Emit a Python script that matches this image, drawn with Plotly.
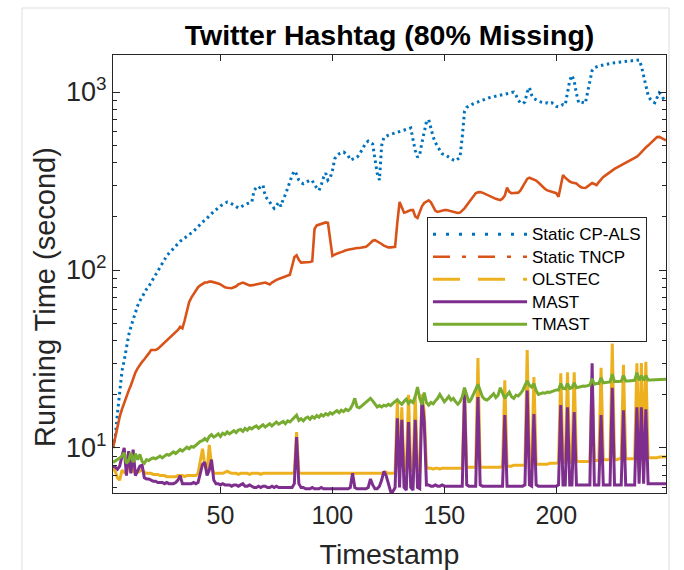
import plotly.graph_objects as go

# Running time per timestamp (seconds), timestamps 2..249
timestamps = list(range(2, 250))

cp_als = [
    10, 11.5, 15.7, 20, 27, 31, 37, 43, 48, 53,
    58, 63, 67, 71, 75, 78, 81, 85, 90, 95,
    100, 104, 109, 115, 120, 124, 128, 132, 137, 141,
    145, 148, 151, 155, 158, 161, 165, 170, 176, 181,
    186, 190, 196, 202, 208, 213, 218, 224, 229, 233,
    237, 241, 240, 236, 232, 227, 223, 226, 230, 234,
    236, 238, 241, 280, 290, 285, 295, 300, 260, 250,
    240, 230, 222, 230, 240, 228, 250, 265, 290, 310,
    340, 360, 345, 320, 310, 305, 310, 315, 320, 318,
    300, 290, 280, 300, 330, 350, 320, 330, 360, 420,
    440, 450, 455, 460, 450, 440, 415, 420, 425, 430,
    445, 470, 500, 520, 530, 520, 510, 420, 350, 320,
    500, 555, 565, 572, 578, 583, 588, 593, 598, 603,
    608, 614, 620, 628, 540, 470, 430, 445, 520, 600,
    680, 700, 620, 560, 520, 490, 470, 450, 445, 440,
    430, 420, 415, 410, 420, 430, 560, 780, 820, 835,
    850, 860, 870, 880, 895, 905, 912, 920, 928, 935,
    940, 945, 950, 955, 962, 968, 975, 985, 995, 1000,
    960, 900, 870, 860, 880, 1000, 1060, 960, 920, 900,
    890, 880, 870, 865, 870, 860, 870, 850, 830, 825,
    840, 850, 845, 990, 1160, 1240, 1150, 980, 870, 880,
    870, 865, 1000, 1150, 1320, 1370, 1390, 1400, 1410, 1420,
    1430, 1440, 1450, 1455, 1460, 1465, 1470, 1475, 1480, 1485,
    1490, 1495, 1500, 1505, 1510, 1515, 1400, 1250, 1080, 960,
    910, 880, 870, 920, 990, 960, 910, 900,
]

tncp = [
    10, 11.5, 13.5, 15, 16.5, 18, 19.5, 21, 22.5, 24.5,
    26.5, 28, 29.5, 30.5, 31.5, 32.5, 34, 35.5, 35.5, 35.5,
    36, 37, 38, 39, 40.5, 41.5, 42.5, 44, 45, 46,
    48, 47, 52, 60, 66, 70, 73, 77, 80, 82,
    84, 85, 85, 86, 86, 85.5, 85, 84, 83, 81,
    80, 79.5, 79, 79, 80, 81, 83, 84, 85, 84,
    83, 82, 82, 82.5, 83, 83.5, 84, 84.5, 85, 84,
    83, 85, 87, 88, 89, 90, 91, 92, 93, 94,
    105, 118, 121, 114, 110, 110, 110, 111, 111, 112,
    170, 178, 180, 182, 184, 185, 184, 150, 120, 122,
    124, 125, 126, 128, 129, 130, 131, 132, 133, 133,
    133, 134, 134, 135, 138, 142, 146, 147, 145, 142,
    140, 137, 135, 134, 134, 134, 135, 185, 241, 225,
    210, 212, 215, 217, 217, 200, 196, 210, 228, 238,
    242, 246, 240, 225, 215, 212, 214, 216, 217, 217,
    215, 213, 211, 210, 209, 210, 215, 222, 231, 240,
    250, 262, 270, 273, 274, 272, 268, 264, 260, 257,
    254, 251, 249, 247, 252, 262, 290, 275, 270, 270,
    271, 272, 280, 295, 312, 325, 330, 326, 322, 318,
    310, 300, 292, 285, 280, 277, 274, 272, 270, 258,
    300, 342, 330, 320, 314, 310, 308, 306, 298, 292,
    290, 289, 295, 303, 308, 304, 300, 312, 325, 333,
    340, 348, 356, 364, 370, 376, 382, 388, 394, 399,
    405, 412, 420, 427, 433, 445, 460, 475, 488, 500,
    515, 530, 545, 558, 560, 552, 542, 535,
]

olstec = [
    7.7, 7.4, 6.8, 6.6, 7.5, 7.3, 7.2, 8.5, 7.3, 7.6,
    7.2, 7.3, 7.4, 7.6, 7.3, 7.2, 7.2, 7.2, 7.1, 7.1,
    7.1, 7.0, 7.0, 7.0, 6.9, 6.9, 6.9, 6.9, 6.9, 7.0,
    7.0, 7.0, 6.9, 7.0, 7.0, 7.0, 7.0, 7.0, 7.2, 8.5,
    9.9, 8.0, 7.4, 10.4, 8.0, 7.2, 7.2, 7.2, 7.2, 7.2,
    7.3, 7.4, 7.3, 7.2, 7.2, 7.2, 7.1, 7.2, 7.2, 7.2,
    7.2, 7.1, 7.2, 7.2, 7.2, 7.2, 7.1, 7.2, 7.2, 7.2,
    7.2, 7.2, 7.2, 7.2, 7.2, 7.2, 7.2, 7.2, 7.2, 7.2,
    7.2, 7.3, 12.3, 7.3, 7.2, 7.2, 7.2, 7.2, 7.2, 7.2,
    7.2, 7.2, 7.2, 7.2, 7.2, 7.2, 7.2, 7.2, 7.2, 7.2,
    7.2, 7.2, 7.2, 7.2, 7.2, 7.2, 7.2, 7.2, 7.2, 7.2,
    7.2, 7.2, 7.2, 7.2, 7.2, 7.2, 7.2, 7.2, 7.2, 7.2,
    7.2, 7.3, 7.3, 7.2, 7.2, 7.2, 7.3, 18.1, 7.5, 16.9,
    7.5, 7.4, 19.9, 7.5, 7.4, 19.5, 7.5, 7.4, 20.0, 16.0,
    7.8, 7.7, 7.7, 7.6, 7.7, 7.7, 7.6, 7.7, 7.7, 7.7,
    7.7, 7.7, 7.7, 7.7, 7.7, 7.7, 7.7, 21.5, 7.8, 7.8,
    7.8, 7.8, 7.8, 32.0, 7.8, 7.8, 7.8, 7.8, 7.8, 7.8,
    7.8, 7.8, 7.8, 7.8, 7.9, 24.0, 7.9, 7.9, 7.9, 8.0,
    8.0, 8.0, 8.0, 8.0, 8.0, 35.5, 8.0, 8.0, 25.0, 8.1,
    8.1, 8.1, 8.1, 8.1, 8.1, 8.2, 8.2, 8.2, 8.2, 8.3,
    26.3, 8.3, 8.3, 26.6, 8.3, 8.3, 26.6, 8.4, 8.4, 8.4,
    8.4, 8.4, 8.4, 8.4, 24.0, 8.5, 8.5, 8.5, 28.2, 8.6,
    8.6, 8.6, 8.6, 38.6, 8.6, 8.6, 8.7, 8.7, 29.3, 8.7,
    8.7, 8.7, 8.7, 8.7, 29.9, 8.7, 30.0, 8.8, 30.5, 8.8,
    8.8, 8.8, 8.8, 8.8, 8.9, 8.9, 8.9, 8.9,
]

mast = [
    7.9, 7.8, 7.6, 7.9, 9.0, 10.0, 7.0, 9.6, 7.2, 9.8,
    7.0, 7.4, 7.9, 8.0, 6.8, 6.7, 6.7, 6.6, 6.5, 6.5,
    6.4, 6.4, 6.4, 6.3, 6.4, 6.3, 6.3, 6.3, 6.4, 6.6,
    7.0, 6.3, 6.3, 6.3, 6.3, 6.3, 6.4, 6.3, 6.4, 7.2,
    8.1, 8.3, 7.0, 7.5, 8.6, 6.6, 6.3, 6.3, 6.2, 6.3,
    6.2, 6.2, 6.2, 6.1, 6.2, 6.2, 6.1, 6.2, 6.3, 6.1,
    6.1, 6.2, 6.1, 6.0, 6.0, 6.1, 6.0, 6.1, 6.1, 6.0,
    6.0, 6.1, 6.0, 6.1, 6.0, 6.0, 6.0, 6.0, 6.0, 6.0,
    6.0, 6.3, 11.5, 6.3, 6.0, 6.0, 5.9, 5.9, 5.9, 6.0,
    5.9, 5.9, 5.9, 6.0, 5.9, 5.9, 5.9, 5.9, 5.9, 5.9,
    5.9, 5.9, 5.9, 5.9, 5.9, 5.9, 6.0, 7.2, 6.0, 5.9,
    5.9, 5.9, 5.9, 5.9, 6.0, 6.7, 6.2, 5.9, 5.9, 6.1,
    6.6, 7.4, 7.0, 6.2, 5.7, 5.7, 6.0, 14.7, 6.0, 14.4,
    6.0, 5.8, 14.0, 6.0, 5.8, 14.4, 6.0, 5.9, 19.0, 14.0,
    6.2, 6.2, 6.1, 6.1, 6.2, 6.1, 6.1, 6.2, 6.1, 6.1,
    6.1, 6.1, 6.1, 6.1, 6.1, 6.1, 6.1, 20.0, 6.2, 6.1,
    6.1, 6.1, 6.1, 19.3, 6.2, 6.1, 6.1, 6.1, 6.1, 6.1,
    6.1, 6.1, 6.1, 6.1, 6.1, 15.3, 6.1, 6.1, 6.1, 6.1,
    6.1, 6.1, 6.1, 6.1, 6.2, 21.0, 6.2, 6.1, 15.5, 6.2,
    6.1, 6.1, 6.1, 6.1, 6.1, 6.1, 6.1, 6.1, 6.1, 6.2,
    17.4, 6.2, 6.2, 16.9, 6.2, 6.2, 15.9, 6.2, 6.2, 6.2,
    6.2, 6.2, 6.2, 6.2, 29.9, 6.2, 6.2, 6.2, 15.3, 6.2,
    6.2, 6.2, 6.2, 21.8, 6.2, 6.2, 6.2, 6.2, 16.3, 6.2,
    6.2, 6.2, 6.2, 6.2, 16.9, 6.3, 16.9, 6.3, 16.5, 6.3,
    6.3, 6.3, 6.3, 6.3, 6.3, 6.3, 6.3, 6.3,
]

tmast = [
    8.3, 8.5, 8.6, 8.8, 9.0, 9.4, 8.2, 8.5, 9.4, 8.3,
    9.3, 8.6, 9.2, 8.4, 8.2, 8.6, 8.5, 8.7, 8.8, 8.7,
    8.9, 9.0, 8.8, 9.0, 9.2, 9.1, 9.3, 9.5, 9.3, 9.6,
    9.8, 9.6, 9.9, 10.1, 9.9, 10.2, 10.1, 10.4, 10.6, 10.9,
    11.0, 11.3, 11.0, 11.6, 11.9, 11.5, 11.7, 12.0, 11.6, 12.1,
    11.9, 12.3, 12.0, 12.2, 12.5, 12.2, 12.6, 12.7, 12.4, 12.9,
    12.6, 13.0, 12.8, 13.1, 13.3, 12.9, 13.2, 13.5, 13.1, 13.4,
    13.7, 13.3, 13.6, 14.0, 13.6, 13.9, 14.1, 13.7, 14.2, 14.0,
    14.4, 14.8, 15.3, 14.3, 14.6, 14.2, 14.7, 14.9, 14.5, 15.0,
    14.7, 15.2, 14.9, 15.4, 15.1, 15.6, 15.3, 15.8, 15.5, 15.9,
    16.2, 15.8, 16.3, 16.0, 16.5, 16.2, 16.6, 17.5, 19.0, 17.0,
    16.8, 17.2, 17.6, 18.0, 18.6, 19.0, 18.4, 17.6, 17.0, 17.3,
    17.0, 17.4, 17.2, 17.6, 17.3, 17.8, 18.2, 18.7, 18.0, 17.6,
    18.3, 18.8, 17.8, 18.4, 18.0, 19.5, 22.0, 19.0, 17.5, 20.5,
    18.0, 17.4, 18.0, 17.7, 18.4, 19.0, 20.0, 19.2, 18.2, 18.8,
    19.5, 18.6, 19.0, 18.2, 17.6, 18.2, 19.4, 21.8, 19.6, 18.0,
    18.8, 20.0, 21.5, 22.8, 21.0, 19.4, 18.8, 18.6, 19.0, 19.6,
    20.2, 19.2, 19.8, 21.8, 20.4, 19.0, 19.8, 20.6, 19.4, 19.0,
    19.8, 19.6, 20.2, 21.0, 22.5, 23.8, 22.5, 22.0, 23.0, 21.0,
    20.0, 20.2, 20.4, 20.3, 20.6, 20.5, 20.8, 21.0, 21.2, 21.2,
    23.0, 21.6, 21.5, 23.0, 21.6, 21.8, 23.2, 21.8, 22.0, 22.0,
    22.3, 22.2, 22.4, 22.6, 24.5, 22.8, 23.0, 23.0, 24.8, 23.2,
    23.3, 23.4, 23.5, 26.0, 23.6, 23.6, 23.7, 23.7, 25.5, 23.8,
    23.8, 23.9, 24.0, 24.0, 26.5, 24.0, 25.5, 24.0, 25.5, 24.1,
    24.1, 24.1, 24.2, 24.2, 24.2, 24.3, 24.3, 24.3,
]

series_names = ["Static CP-ALS", "Static TNCP", "OLSTEC", "MAST", "TMAST"]
series_values = [cp_als, tncp, olstec, mast, tmast]
for name, vals in zip(series_names, series_values):
    if len(vals) != len(timestamps):
        raise ValueError(f"{name}: {len(vals)} values for {len(timestamps)} timestamps")

y_major = [10, 100, 1000]
y_major_text = ["10<sup>1</sup>", "10<sup>2</sup>", "10<sup>3</sup>"]
y_minor = [6, 7, 8, 9, 20, 30, 40, 50, 60, 70, 80, 90,
           200, 300, 400, 500, 600, 700, 800, 900]
x_ticks = [50, 100, 150, 200]

colors = ["#0072BD", "#D95319", "#EDB120", "#7E2F8E", "#77AC30"]
plot_dash = ["2.5px,3.5px", "solid", "solid", "solid", "solid"]
legend_dash = ["3px,10px", "17px,12px,4px,12px", "27px,18px", "solid", "solid"]
widths = [3, 2.6, 3, 3, 3]

AX = "#262626"
FONT = "Liberation Sans, Arial, Helvetica, sans-serif"

fig = go.Figure()
for name, vals, col, dash, w in zip(series_names, series_values, colors, plot_dash, widths):
    fig.add_trace(go.Scatter(
        x=timestamps, y=vals, mode="lines", name=name, showlegend=False,
        line=dict(color=col, width=w, dash=dash),
        hoverinfo="skip",
    ))
# legend entries showing each line style
for name, col, dash, w in zip(series_names, colors, legend_dash, widths):
    fig.add_trace(go.Scatter(
        x=[None], y=[None], mode="lines",
        name=f"<span style='font-size:17px'>{name}</span>",
        line=dict(color=col, width=w, dash=dash),
    ))

L, R, T, B = 113, 18, 55, 77
W, H = 684, 570
pw, ph = W - L - R, H - T - B


def px_x(p):
    return (p - L) / pw


def px_y(p):
    return (H - B - p) / ph


fig.update_layout(
    width=W, height=H,
    margin=dict(l=L, r=R, t=T, b=B, pad=0, autoexpand=False),
    paper_bgcolor="white", plot_bgcolor="white",
    font=dict(family=FONT, color=AX),
    title=dict(
        text="<b>Twitter Hashtag (80% Missing)</b>",
        font=dict(family=FONT, size=28.5, color="black"),
        x=0.5, xref="paper", xanchor="center",
        y=1 - 35 / H, yref="container", yanchor="middle",
    ),
    xaxis=dict(
        range=[2, 249], tickmode="array", tickvals=x_ticks,
        ticks="inside", ticklen=6, tickwidth=1, tickcolor=AX,
        showline=True, linecolor=AX, linewidth=1, mirror="ticks",
        showgrid=False, zeroline=False, automargin=False,
        tickfont=dict(size=25, color=AX),
        title=dict(text="Timestamp", font=dict(size=28.5, color=AX), standoff=21),
    ),
    yaxis=dict(
        type="log", range=[0.747, 3.208],
        tickmode="array", tickvals=y_major, ticktext=y_major_text,
        ticks="inside", ticklen=7, tickwidth=1, tickcolor=AX,
        minor=dict(tickmode="array", tickvals=y_minor, ticks="inside",
                   ticklen=4, tickwidth=1, tickcolor=AX, showgrid=False),
        showline=True, linecolor=AX, linewidth=1, mirror="ticks",
        showgrid=False, zeroline=False, automargin=False,
        tickfont=dict(size=27, color=AX),
    ),
    annotations=[dict(
        text="Running Time (second)", textangle=-90,
        xref="paper", yref="paper", x=px_x(45), y=px_y(297),
        xanchor="center", yanchor="middle", showarrow=False,
        font=dict(family=FONT, size=29, color=AX),
    )],
    legend=dict(
        x=px_x(427), y=px_y(217), xanchor="left", yanchor="top",
        bgcolor="white", bordercolor=AX, borderwidth=1,
        font=dict(size=15, color="black"), itemwidth=94,
        tracegroupgap=0,
    ),
    shapes=[dict(
        type="path", xref="paper", yref="paper",
        path=f"M {px_x(22)},{px_y(575)} L {px_x(22)},{px_y(8)} L {px_x(669)},{px_y(8)} L {px_x(669)},{px_y(575)}",
        line=dict(color="#dddddd", width=1), layer="below",
    )],
)

fig.write_html("out.html")
